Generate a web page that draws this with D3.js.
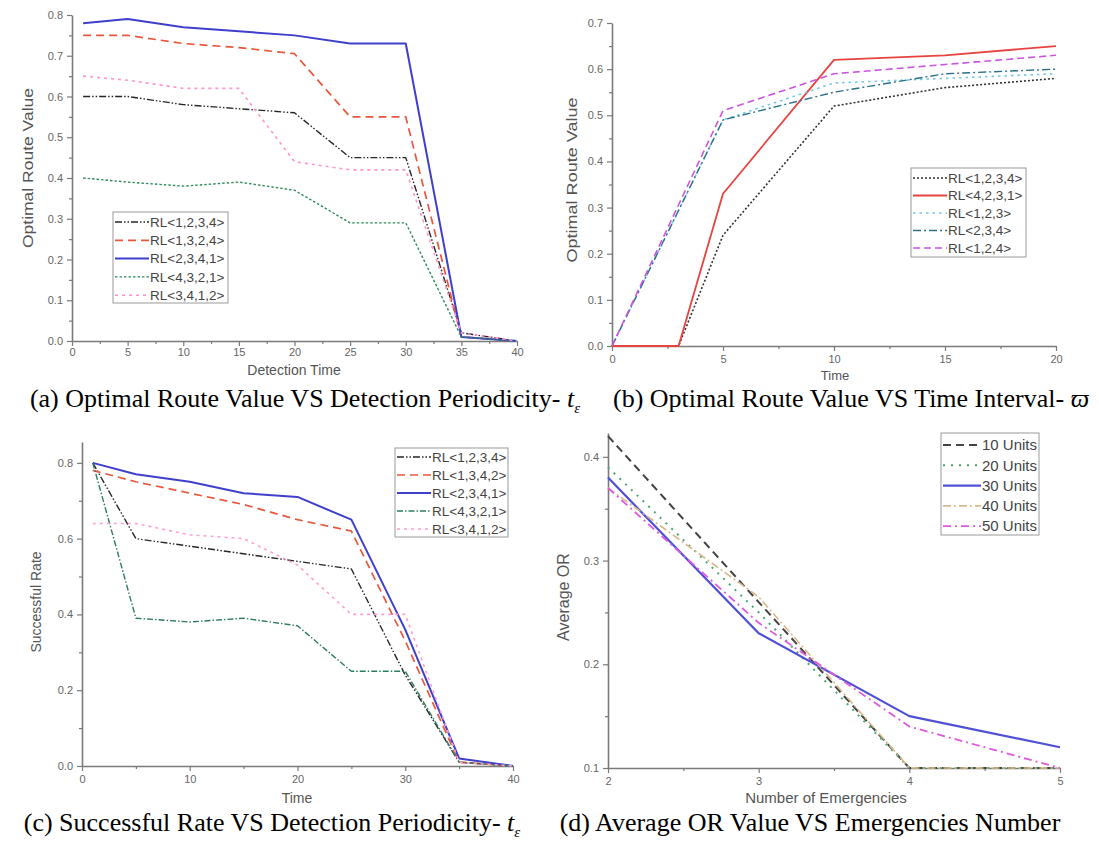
<!DOCTYPE html>
<html>
<head>
<meta charset="utf-8">
<script src="https://cdn.jsdelivr.net/npm/d3@7"></script>
<style>
  html, body { margin: 0; padding: 0; background: #fff; }
  svg { display: block; }
</style>
</head>
<body>
<svg id="chart" width="1099" height="848"></svg>
<script>
// ---------------- DATA ----------------
// Panel (a): Optimal Route Value VS Detection Periodicity
const aTime = [1, 5, 10, 15, 20, 25, 30, 35, 40];
const aRL1234 = [0.60, 0.60, 0.58, 0.57, 0.56, 0.45, 0.45, 0.02, 0.00];
const aRL1324 = [0.75, 0.75, 0.73, 0.72, 0.705, 0.55, 0.55, 0.01, 0.00];
const aRL2341 = [0.78, 0.79, 0.77, 0.76, 0.75, 0.73, 0.73, 0.01, 0.00];
const aRL4321 = [0.40, 0.39, 0.38, 0.39, 0.37, 0.29, 0.29, 0.01, 0.00];
const aRL3412 = [0.65, 0.64, 0.62, 0.62, 0.44, 0.42, 0.42, 0.02, 0.00];
const aLabels = ["RL<1,2,3,4>", "RL<1,3,2,4>", "RL<2,3,4,1>", "RL<4,3,2,1>", "RL<3,4,1,2>"];
const aXTicks = [0, 5, 10, 15, 20, 25, 30, 35, 40];
const aYTicks = [0.0, 0.1, 0.2, 0.3, 0.4, 0.5, 0.6, 0.7, 0.8];

// Panel (b): Optimal Route Value VS Time Interval
const bTimeLate = [0, 3, 5, 10, 15, 20];
const bTimeEarly = [0, 5, 10, 15, 20];
const bRL1234 = [0, 0, 0.24, 0.52, 0.56, 0.58];
const bRL4231 = [0, 0, 0.33, 0.62, 0.63, 0.65];
const bRL123 = [0, 0.49, 0.57, 0.58, 0.59];
const bRL234 = [0, 0.49, 0.55, 0.59, 0.60];
const bRL124 = [0, 0.51, 0.59, 0.61, 0.63];
const bLabels = ["RL<1,2,3,4>", "RL<4,2,3,1>", "RL<1,2,3>", "RL<2,3,4>", "RL<1,2,4>"];
const bXTicks = [0, 5, 10, 15, 20];
const bYTicks = [0.0, 0.1, 0.2, 0.3, 0.4, 0.5, 0.6, 0.7];

// Panel (c): Successful Rate VS Detection Periodicity
const cTime = [1, 5, 10, 15, 20, 25, 30, 35, 40];
const cRL1234 = [0.80, 0.60, 0.58, 0.56, 0.54, 0.52, 0.24, 0.01, 0.00];
const cRL1342 = [0.78, 0.75, 0.72, 0.69, 0.65, 0.62, 0.33, 0.01, 0.00];
const cRL2341 = [0.80, 0.77, 0.75, 0.72, 0.71, 0.65, 0.36, 0.02, 0.00];
const cRL4321 = [0.80, 0.39, 0.38, 0.39, 0.37, 0.25, 0.25, 0.01, 0.00];
const cRL3412 = [0.64, 0.64, 0.61, 0.60, 0.53, 0.40, 0.40, 0.01, 0.00];
const cLabels = ["RL<1,2,3,4>", "RL<1,3,4,2>", "RL<2,3,4,1>", "RL<4,3,2,1>", "RL<3,4,1,2>"];
const cXTicks = [0, 10, 20, 30, 40];
const cYTicks = [0.0, 0.2, 0.4, 0.6, 0.8];

// Panel (d): Average OR Value VS Emergencies Number
const dEmerg = [2, 3, 4, 5];
const d10Units = [0.42, 0.26, 0.10, 0.10];
const d20Units = [0.39, 0.25, 0.10, 0.10];
const d30Units = [0.38, 0.23, 0.15, 0.12];
const d40Units = [0.37, 0.265, 0.10, 0.10];
const d50Units = [0.37, 0.24, 0.14, 0.10];
const dLabels = ["10 Units", "20 Units", "30 Units", "40 Units", "50 Units"];
const dXTicks = [2, 3, 4, 5];
const dYTicks = [0.1, 0.2, 0.3, 0.4];

// ---------------- STYLES ----------------
const styleRL = [
  { color: "#262626", dash: "7,2,1.5,2,1.5,2", w: 1.4 },
  { color: "#e8583f", dash: "8,5", w: 1.7 },
  { color: "#3f3fcc", dash: null, w: 2.0 },
  { color: "#2f8a5e", dash: "2.5,2", w: 1.4 },
  { color: "#ff94cc", dash: "3,4", w: 1.6 }
];
const styleRLc = [
  { color: "#262626", dash: "7,2,1.5,2,1.5,2", w: 1.4 },
  { color: "#e8583f", dash: "8,5", w: 1.7 },
  { color: "#3f3fcc", dash: null, w: 2.0 },
  { color: "#2f7d5e", dash: "6,2,1.5,2", w: 1.4 },
  { color: "#ff9fd2", dash: "3,4", w: 1.6 }
];
const styleB = [
  { color: "#333333", dash: "2,2", w: 1.6 },
  { color: "#e8443f", dash: null, w: 1.8 },
  { color: "#74c8e6", dash: "2.5,4", w: 1.6 },
  { color: "#2c7088", dash: "8,3,2,3", w: 1.4 },
  { color: "#cc55e0", dash: "7,4", w: 1.6 }
];
const styleD = [
  { color: "#444444", dash: "8,5", w: 2.0 },
  { color: "#4aa872", dash: "2,6", w: 2.0 },
  { color: "#5050d6", dash: null, w: 2.2 },
  { color: "#d9b98b", dash: "8,3,2,3", w: 1.7 },
  { color: "#dd5ae0", dash: "8,4,2,4", w: 1.8 }
];

const svg = d3.select("#chart");
const SANS = "'Liberation Sans', Arial, sans-serif";
const SERIF = "'Liberation Serif', 'Times New Roman', serif";
const AXIS_COLOR = "#7a7a7a";
const TEXT_COLOR = "#555";

function minorsOf(ticks) {
  const out = [];
  for (let i = 0; i < ticks.length - 1; i++) out.push((ticks[i] + ticks[i + 1]) / 2);
  return out;
}

function drawPanel(p) {
  const g = svg.append("g");
  const x = d3.scaleLinear().domain(p.xDomain).range([p.left, p.right]);
  const y = d3.scaleLinear().domain(p.yDomain).range([p.bottom, p.top]);

  const xAxis = g.append("g").attr("transform", `translate(0,${p.bottom})`)
    .call(d3.axisBottom(x).tickValues(p.xTicks).tickSize(5).tickSizeOuter(0).tickPadding(p.xPad ?? 4).tickFormat(p.xFmt));
  const xMinor = g.append("g").attr("transform", `translate(0,${p.bottom})`)
    .call(d3.axisBottom(x).tickValues(minorsOf(p.xTicks)).tickSize(3).tickSizeOuter(0).tickFormat(""));
  const yAxis = g.append("g").attr("transform", `translate(${p.left},0)`)
    .call(d3.axisLeft(y).tickValues(p.yTicks).tickSize(5).tickSizeOuter(0).tickPadding(4).tickFormat(p.yFmt));
  const yMinor = g.append("g").attr("transform", `translate(${p.left},0)`)
    .call(d3.axisLeft(y).tickValues(minorsOf(p.yTicks)).tickSize(3).tickSizeOuter(0).tickFormat(""));
  [xAxis, xMinor, yAxis, yMinor].forEach(a => {
    a.select(".domain").attr("stroke", AXIS_COLOR).attr("stroke-width", 1.6);
    a.selectAll(".tick line").attr("stroke", AXIS_COLOR).attr("stroke-width", 1.2);
    a.selectAll(".tick text").attr("fill", "#666").style("font-family", SANS).style("font-size", p.tickFont + "px");
  });
  [xMinor, yMinor].forEach(a => a.select(".domain").remove());

  g.append("text").attr("x", p.xTitleX).attr("y", p.xTitleY)
    .attr("text-anchor", "middle").attr("fill", TEXT_COLOR)
    .style("font-family", SANS).style("font-size", p.xTitleFont + "px").text(p.xTitle);
  const yt = g.append("text").attr("transform", `translate(${p.yTitleX},${p.yTitleY}) rotate(-90)`)
    .attr("text-anchor", "middle").attr("fill", TEXT_COLOR)
    .style("font-family", SANS).style("font-size", p.yTitleFont + "px").text(p.yTitle);
  if (p.yTitleLen) yt.attr("textLength", p.yTitleLen).attr("lengthAdjust", "spacingAndGlyphs");

  const line = d3.line().x(d => x(d[0])).y(d => y(d[1]));
  p.series.forEach((s, i) => {
    const st = p.styles[i];
    const pts = s.xs.map((v, k) => [v, s.ys[k]]);
    g.append("path").datum(pts).attr("d", line)
      .attr("fill", "none").attr("stroke", st.color).attr("stroke-width", st.w)
      .attr("stroke-dasharray", st.dash).attr("stroke-linejoin", "round");
  });

  const L = p.legend;
  const lg = g.append("g");
  lg.append("rect").attr("x", L.x).attr("y", L.y).attr("width", L.w).attr("height", L.h)
    .attr("fill", "#fff").attr("stroke", "#9a9a9a").attr("stroke-width", 1);
  p.series.forEach((s, i) => {
    const st = p.styles[i];
    const yy = L.y + L.first + i * L.step;
    lg.append("line").attr("x1", L.x + 2).attr("x2", L.x + 2 + L.sample).attr("y1", yy).attr("y2", yy)
      .attr("stroke", st.color).attr("stroke-width", st.w).attr("stroke-dasharray", st.dash);
    lg.append("text").attr("x", L.x + 3 + L.sample).attr("y", yy).attr("dy", "0.35em")
      .attr("fill", "#444").style("font-family", SANS).style("font-size", L.font + "px").text(p.labels[i]);
  });
}

const f1 = d3.format(".1f");
const fi = d3.format("d");

drawPanel({
  xDomain: [0, 40], yDomain: [0, 0.8], left: 72, right: 517, top: 15, bottom: 341,
  xTicks: aXTicks, yTicks: aYTicks, xFmt: fi, yFmt: f1, tickFont: 11, xPad: 2,
  xTitle: "Detection Time", xTitleX: 294, xTitleY: 375, xTitleFont: 14,
  yTitle: "Optimal Route Value", yTitleX: 33, yTitleY: 168, yTitleFont: 15, yTitleLen: 160,
  series: [aRL1234, aRL1324, aRL2341, aRL4321, aRL3412].map(v => ({ xs: aTime, ys: v })),
  styles: styleRL, labels: aLabels,
  legend: { x: 113, y: 212, w: 115, h: 91, first: 10, step: 18.3, sample: 34, font: 13.5 }
});

drawPanel({
  xDomain: [0, 20], yDomain: [0, 0.7], left: 612, right: 1056, top: 23, bottom: 346,
  xTicks: bXTicks, yTicks: bYTicks, xFmt: fi, yFmt: f1, tickFont: 11,
  xTitle: "Time", xTitleX: 835, xTitleY: 380, xTitleFont: 13,
  yTitle: "Optimal Route Value", yTitleX: 577, yTitleY: 180, yTitleFont: 15, yTitleLen: 165,
  series: [
    { xs: bTimeLate, ys: bRL1234 }, { xs: bTimeLate, ys: bRL4231 },
    { xs: bTimeEarly, ys: bRL123 }, { xs: bTimeEarly, ys: bRL234 }, { xs: bTimeEarly, ys: bRL124 }
  ],
  styles: styleB, labels: bLabels,
  legend: { x: 911, y: 168, w: 115, h: 89, first: 10, step: 17.5, sample: 34, font: 13.5 }
});

drawPanel({
  xDomain: [0, 40], yDomain: [0, 0.855], left: 82, right: 513, top: 442, bottom: 766,
  xTicks: cXTicks, yTicks: cYTicks, xFmt: fi, yFmt: f1, tickFont: 11,
  xTitle: "Time", xTitleX: 297, xTitleY: 803, xTitleFont: 14,
  yTitle: "Successful Rate", yTitleX: 41, yTitleY: 602, yTitleFont: 14,
  series: [cRL1234, cRL1342, cRL2341, cRL4321, cRL3412].map(v => ({ xs: cTime, ys: v })),
  styles: styleRLc, labels: cLabels,
  legend: { x: 395, y: 448, w: 113, h: 89, first: 9, step: 18, sample: 34, font: 13.5 }
});

drawPanel({
  xDomain: [2, 5], yDomain: [0.1, 0.423], left: 608, right: 1060, top: 433, bottom: 768,
  xTicks: dXTicks, yTicks: dYTicks, xFmt: fi, yFmt: f1, tickFont: 11,
  xTitle: "Number of Emergencies", xTitleX: 826, xTitleY: 803, xTitleFont: 15,
  yTitle: "Average OR", yTitleX: 569, yTitleY: 597, yTitleFont: 16,
  series: [d10Units, d20Units, d30Units, d40Units, d50Units].map(v => ({ xs: dEmerg, ys: v })),
  styles: styleD, labels: dLabels,
  legend: { x: 941, y: 433, w: 98, h: 102, first: 12, step: 20.3, sample: 38, font: 15 }
});

// ---------------- CAPTIONS ----------------
function caption(cx, y, main, tail) {
  const t = svg.append("text").attr("x", cx).attr("y", y).attr("fill", "#000")
    .attr("text-anchor", "middle")
    .style("font-family", SERIF).style("font-size", "26px");
  t.append("tspan").text(main);
  tail(t);
}
const tEps = t => {
  t.append("tspan").attr("font-style", "italic").text("t");
  t.append("tspan").attr("font-style", "italic").attr("font-size", "15px").attr("dy", 6).text("ε");
};
caption(305, 407, "(a) Optimal Route Value VS Detection Periodicity- ", tEps);
caption(851, 407, "(b) Optimal Route Value VS Time Interval- ",
  t => t.append("tspan").attr("font-style", "italic").text("ϖ"));
caption(272, 831, "(c) Successful Rate VS Detection Periodicity- ", tEps);
caption(810, 831, "(d) Average OR Value VS Emergencies Number", t => {});
</script>
</body>
</html>
